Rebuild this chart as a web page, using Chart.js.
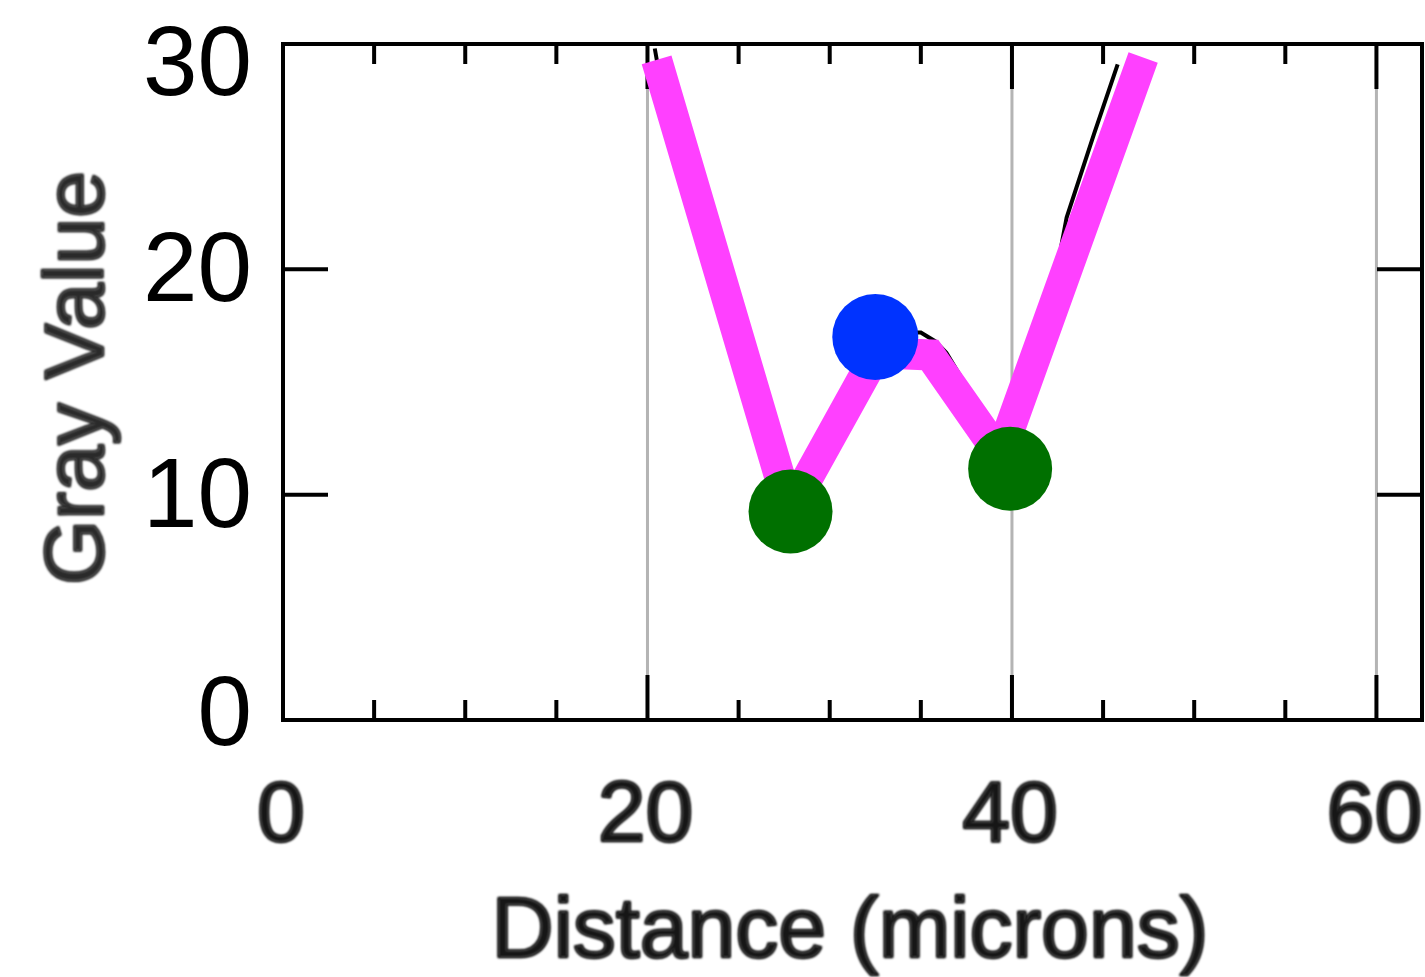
<!DOCTYPE html>
<html>
<head>
<meta charset="utf-8">
<title>Gray Value profile</title>
<script src="https://cdn.jsdelivr.net/npm/chart.js@4.4.0/dist/chart.umd.min.js"></script>
<style>
    html, body { margin: 0; padding: 0; background: #fff; overflow: hidden; }
    canvas { display: block; }
</style>
</head>
<body>
<canvas id="profileChart" width="1425" height="977"></canvas>
<script>
// axis values
const xMajorTicks = [0, 20, 40, 60];
const xMinorTicks = [5, 10, 15, 25, 30, 35, 45, 50, 55];
const xTickLabels = ['0', '20', '40', '60'];
const yTicks = [0, 10, 20, 30];
const yTickLabels = ['0', '10', '20', '30'];
const yTickMarks = [10, 20];
const gridX = [20, 40, 60];

// original profile (thin black, mostly hidden)
const profileX = [20.4, 20.9, 24.4, 27.8, 30.0, 32.6, 33.5, 35.0, 35.8, 36.4, 39.6, 41.0, 42.0, 43.0, 44.5, 45.8];
const profileY = [29.8, 27.5, 17.0, 9.0, 13.0, 17.2, 17.2, 17.2, 16.8, 16.3, 12.0, 14.5, 18.0, 22.3, 26.0, 29.1];

// highlighted trace
const traceX = [20.5, 27.8, 32.6, 35.5, 39.35, 47.2];
const traceY = [29.3, 9.3, 16.3, 16.2, 11.75, 29.4];

// minima / maximum markers
const minX = [27.85, 39.9];
const minY = [9.25, 11.15];
const maxX = [32.5];
const maxY = [17.0];

function toPoints(xs, ys) {
    return xs.map((v, i) => ({ x: v, y: ys[i] }));
}

function strokeLine(ctx, x1, y1, x2, y2) {
    ctx.beginPath();
    ctx.moveTo(x1, y1);
    ctx.lineTo(x2, y2);
    ctx.stroke();
}

function softText(ctx, text, x, y) {
    ctx.strokeText(text, x, y);
    ctx.fillText(text, x, y);
}

const framePlugin = {
    id: 'frame',
    beforeDatasetsDraw(chart) {
        const { ctx, chartArea: a, scales: { x, y } } = chart;
        ctx.save();
        ctx.lineCap = 'butt';
        ctx.strokeStyle = '#b4b4b4';
        ctx.lineWidth = 3;
        gridX.forEach(v => {
            const px = x.getPixelForValue(v);
            strokeLine(ctx, px, a.top, px, a.bottom);
        });

        ctx.strokeStyle = '#000';
        ctx.lineWidth = 4;
        xMajorTicks.forEach(v => {
            const px = x.getPixelForValue(v);
            strokeLine(ctx, px, a.bottom, px, a.bottom - 45);
            strokeLine(ctx, px, a.top, px, a.top + 45);
        });
        xMinorTicks.forEach(v => {
            const px = x.getPixelForValue(v);
            strokeLine(ctx, px, a.bottom, px, a.bottom - 20);
            strokeLine(ctx, px, a.top, px, a.top + 20);
        });
        yTickMarks.forEach(v => {
            const py = y.getPixelForValue(v);
            strokeLine(ctx, a.left, py, a.left + 45, py);
            strokeLine(ctx, a.right, py, a.right - 45, py);
        });
        ctx.strokeRect(a.left, a.top, a.right - a.left, a.bottom - a.top);
        ctx.restore();
    },
    afterDraw(chart) {
        const { ctx, chartArea: a, scales: { x, y } } = chart;
        ctx.save();

        // y tick labels (crisp)
        ctx.fillStyle = '#000';
        ctx.font = '98px "Liberation Sans", Arial, sans-serif';
        ctx.textAlign = 'right';
        ctx.textBaseline = 'alphabetic';
        yTicks.forEach((v, i) => {
            const py = y.getPixelForValue(v);
            const c = Math.min(Math.max(py - 3, a.top + 16), a.bottom - 10);
            ctx.fillText(yTickLabels[i], 252, c + 35);
        });

        // x tick labels and titles (soft)
        ctx.filter = 'blur(1.2px)';
        ctx.fillStyle = '#161616';
        ctx.strokeStyle = '#161616';
        ctx.lineWidth = 2.5;
        ctx.lineJoin = 'round';
        ctx.font = '86px "Liberation Sans", Arial, sans-serif';
        ctx.textAlign = 'center';
        xMajorTicks.forEach((v, i) => {
            softText(ctx, xTickLabels[i], x.getPixelForValue(v) - 2, 841);
        });
        softText(ctx, 'Distance (microns)', 850, 957);

        ctx.font = '84px "Liberation Sans", Arial, sans-serif';
        ctx.fillStyle = '#2a2a2a';
        ctx.strokeStyle = '#2a2a2a';
        ctx.translate(103, 378);
        ctx.rotate(-Math.PI / 2);
        softText(ctx, 'Gray Value', 0, 0);
        ctx.restore();
    }
};

document.addEventListener('DOMContentLoaded', function() {
    initializeChart();
});

function initializeChart() {
    const ctx = document.getElementById('profileChart').getContext('2d');
    window.profileChart = new Chart(ctx, {
        type: 'scatter',
        data: {
            datasets: [{
                label: 'Minima',
                data: toPoints(minX, minY),
                showLine: false,
                pointRadius: 42,
                pointBackgroundColor: '#007000',
                pointBorderWidth: 0,
                order: 0
            }, {
                label: 'Maximum',
                data: toPoints(maxX, maxY),
                showLine: false,
                pointRadius: 43,
                pointBackgroundColor: '#0033ff',
                pointBorderWidth: 0,
                order: 0
            }, {
                label: 'Trace',
                data: toPoints(traceX, traceY),
                showLine: true,
                borderColor: '#ff40ff',
                borderWidth: 31,
                borderCapStyle: 'butt',
                borderJoinStyle: 'miter',
                pointRadius: 0,
                tension: 0,
                order: 1
            }, {
                label: 'Profile',
                data: toPoints(profileX, profileY),
                showLine: true,
                borderColor: '#000',
                borderWidth: 4,
                pointRadius: 0,
                tension: 0,
                order: 2
            }]
        },
        options: {
            responsive: false,
            animation: false,
            events: [],
            clip: false,
            layout: {
                autoPadding: false,
                padding: { left: 283, top: 44, right: 3, bottom: 257 }
            },
            plugins: {
                legend: { display: false },
                tooltip: { enabled: false }
            },
            scales: {
                x: { type: 'linear', min: 0, max: 62.5, display: false },
                y: { type: 'linear', min: 0, max: 30, display: false }
            }
        },
        plugins: [framePlugin]
    });
}
</script>
</body>
</html>
